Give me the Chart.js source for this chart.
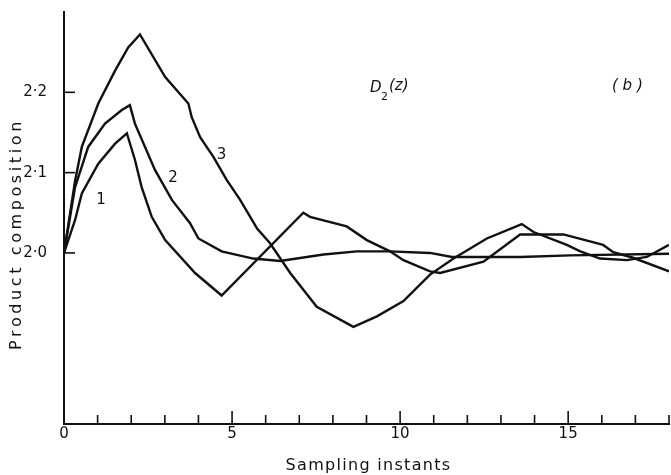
<!DOCTYPE html>
<html>
<head>
<meta charset="utf-8">
<script src="https://cdn.jsdelivr.net/npm/chart.js@4"></script>
<style>
  html, body { margin: 0; padding: 0; background: #fff; }
  #wrap { width: 671px; height: 475px; }
</style>
</head>
<body>
<div id="wrap"><canvas id="grafico" width="671" height="475"></canvas></div>
<script>
// Curva 1
const curva1X = [0, 0.33, 0.53, 1.02, 1.52, 1.87, 2.11, 2.31, 2.61, 3.01, 3.90, 4.69, 7.12, 7.32, 8.41, 9.01, 9.70, 10.10, 10.89, 11.19, 12.48, 13.57, 14.86, 16.04, 16.34, 16.93, 18.0];
const curva1Y = [2.000, 2.041, 2.074, 2.111, 2.136, 2.149, 2.116, 2.082, 2.045, 2.016, 1.975, 1.947, 2.050, 2.045, 2.033, 2.016, 2.002, 1.991, 1.977, 1.975, 1.989, 2.023, 2.023, 2.010, 2.001, 1.994, 1.977];

// Curva 2
const curva2X = [0, 0.33, 0.72, 1.22, 1.72, 1.96, 2.11, 2.71, 3.21, 3.75, 4.00, 4.69, 5.63, 6.43, 7.72, 8.71, 9.70, 10.89, 11.54, 13.57, 15.06, 18.0];
const curva2Y = [2.000, 2.082, 2.132, 2.161, 2.178, 2.184, 2.161, 2.103, 2.066, 2.037, 2.018, 2.002, 1.993, 1.990, 1.998, 2.002, 2.002, 2.000, 1.995, 1.995, 1.997, 1.999];

// Curva 3
const curva3X = [0, 0.33, 0.53, 1.02, 1.52, 1.91, 2.26, 3.01, 3.70, 3.80, 4.05, 4.44, 4.84, 5.24, 5.54, 5.75, 6.13, 6.73, 7.52, 8.61, 9.31, 10.10, 10.89, 11.59, 12.58, 13.62, 13.97, 14.96, 15.36, 15.95, 16.75, 17.34, 18.0];
const curva3Y = [2.000, 2.090, 2.132, 2.186, 2.227, 2.256, 2.272, 2.219, 2.186, 2.169, 2.144, 2.120, 2.091, 2.066, 2.045, 2.030, 2.012, 1.975, 1.933, 1.908, 1.921, 1.940, 1.973, 1.993, 2.018, 2.036, 2.026, 2.010, 2.002, 1.993, 1.991, 1.995, 2.010];

// Eixos
const xTicks = [0, 5, 10, 15];
const xMarcas = [0, 1, 2, 3, 4, 5, 6, 7, 8, 9, 10, 11, 12, 13, 14, 15, 16, 17, 18];
const yTicks = [2.0, 2.1, 2.2];

// Rótulos das curvas
const rotulos = ['1', '2', '3'];
const rotulosX = [1.10, 3.24, 4.69];
const rotulosY = [2.066, 2.093, 2.122];

const fonte = "'DejaVu Sans', sans-serif";
const tinta = '#111';

const pontos = (xs, ys) => xs.map((x, i) => ({ x: x, y: ys[i] }));

const serie = (label, xs, ys) => ({
    label: label,
    data: pontos(xs, ys),
    borderColor: tinta,
    borderWidth: 2.4,
    pointRadius: 0,
    tension: 0,
    fill: false
});

// marcas dos eixos para dentro + textos
const extras = {
    id: 'extras',
    afterDraw(chart) {
        const ctx = chart.ctx;
        const sx = chart.scales.x;
        const sy = chart.scales.y;
        const base = sy.getPixelForValue(sy.min);
        const esq = sx.getPixelForValue(0);
        ctx.save();
        ctx.strokeStyle = tinta;
        ctx.lineWidth = 1.6;
        xMarcas.forEach(v => {
            if (v === 0) return;
            const px = sx.getPixelForValue(v);
            const len = v % 5 === 0 ? 13 : 9;
            ctx.beginPath();
            ctx.moveTo(px, base);
            ctx.lineTo(px, base - len);
            ctx.stroke();
        });
        yTicks.forEach(v => {
            const py = sy.getPixelForValue(v);
            ctx.beginPath();
            ctx.moveTo(esq, py);
            ctx.lineTo(esq + 11, py);
            ctx.stroke();
        });

        ctx.fillStyle = tinta;
        ctx.textAlign = 'center';
        ctx.textBaseline = 'middle';
        ctx.font = '15px ' + fonte;
        rotulos.forEach((r, i) => {
            ctx.fillText(r, sx.getPixelForValue(rotulosX[i]), sy.getPixelForValue(rotulosY[i]));
        });

        // títulos dos eixos (espaçados como no original)
        ctx.font = '16px ' + fonte;
        ctx.letterSpacing = '1.3px';
        ctx.fillText('Sampling instants', (sx.left + sx.right) / 2 + 2, 466);
        ctx.save();
        ctx.translate(17, 234);
        ctx.rotate(-Math.PI / 2);
        ctx.font = '16px ' + fonte;
        ctx.letterSpacing = '3.6px';
        ctx.fillText('Product composition', 0, 0);
        ctx.restore();
        ctx.letterSpacing = '0px';

        // D2(z)  e  (b)
        ctx.textAlign = 'left';
        ctx.font = 'italic 15px ' + fonte;
        ctx.fillText('D', 370, 88);
        ctx.font = '11px ' + fonte;
        ctx.fillText('2', 381, 97);
        ctx.font = 'italic 15px ' + fonte;
        ctx.fillText('(z)', 389, 86);
        ctx.fillText('( b )', 612, 86);
        ctx.restore();
    }
};

const ctxGrafico = document.getElementById('grafico').getContext('2d');
new Chart(ctxGrafico, {
    type: 'line',
    data: {
        datasets: [
            serie('1', curva1X, curva1Y),
            serie('2', curva2X, curva2Y),
            serie('3', curva3X, curva3Y)
        ]
    },
    options: {
        responsive: false,
        animation: false,
        layout: { padding: { top: 12, right: 2, left: 0, bottom: 0 } },
        plugins: {
            legend: { display: false },
            tooltip: { enabled: false }
        },
        scales: {
            x: {
                type: 'linear',
                min: 0,
                max: 18,
                grid: { display: false, drawTicks: false },
                border: { display: true, color: tinta, width: 2 },
                afterBuildTicks: s => { s.ticks = xTicks.map(v => ({ value: v })); },
                afterFit: s => { s.height = 51; s.paddingLeft = 0; s.paddingRight = 0; },
                ticks: {
                    color: tinta,
                    padding: 1,
                    maxRotation: 0,
                    font: { family: fonte, size: 15 }
                }
            },
            y: {
                min: 1.787,
                max: 2.30,
                grid: { display: false, drawTicks: false },
                border: { display: true, color: tinta, width: 2 },
                afterBuildTicks: s => { s.ticks = yTicks.map(v => ({ value: v })); },
                afterFit: s => { s.width = 64; s.paddingTop = 0; s.paddingBottom = 0; },
                ticks: {
                    color: tinta,
                    padding: 17,
                    font: { family: fonte, size: 15 },
                    callback: v => v.toFixed(1).replace('.', '·')
                }
            }
        }
    },
    plugins: [extras]
});
</script>
</body>
</html>
